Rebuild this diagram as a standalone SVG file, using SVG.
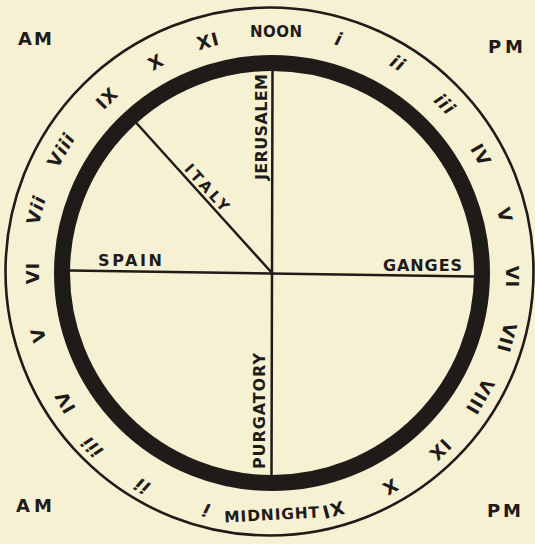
<svg xmlns="http://www.w3.org/2000/svg" width="535" height="544" viewBox="0 0 535 544">
<style>
.t{font-family:"DejaVu Sans","Liberation Sans",Arial,sans-serif;font-weight:bold;fill:#1f1b19}
.n{font-size:18px;text-anchor:middle;letter-spacing:1px}
.lc{font-style:italic}
.lb{font-size:16px}
.ln{stroke:#1f1b19;stroke-width:2.5;fill:none;stroke-linecap:round}
</style>
<rect width="535" height="544" fill="#f6f1d2"/>
<g id="outer-ring"><circle cx="269.5" cy="271.5" r="264" fill="none" stroke="#1f1b19" stroke-width="2.6"/></g>
<g id="inner-ring"><circle cx="272" cy="273" r="210" fill="none" stroke="#1f1b19" stroke-width="16"/></g>
<g id="connectors">
<line class="ln" x1="272.5" y1="70" x2="271.5" y2="476"/>
<line class="ln" x1="70" y1="270.5" x2="475" y2="276.5"/>
<line class="ln" x1="131" y1="117" x2="272" y2="273"/>
</g>
<g id="label-jerusalem"><text class="t lb" transform="translate(267,127) rotate(-90)" text-anchor="middle" textLength="106" lengthAdjust="spacing">JERUSALEM</text></g>
<g id="label-purgatory"><text class="t lb" transform="translate(265,411) rotate(-90)" text-anchor="middle" textLength="116" lengthAdjust="spacing">PURGATORY</text></g>
<g id="label-italy"><text class="t" font-size="15" transform="translate(203,191) rotate(48)" text-anchor="middle" textLength="58" lengthAdjust="spacing">ITALY</text></g>
<g id="label-spain"><text class="t lb" x="98" y="266" textLength="64" lengthAdjust="spacing">SPAIN</text></g>
<g id="label-ganges"><text class="t lb" x="383" y="271" textLength="79" lengthAdjust="spacing">GANGES</text></g>
<g id="noon"><text class="t" font-size="15" x="250" y="37" textLength="52" lengthAdjust="spacing">NOON</text></g>
<g id="midnight"><text class="t" font-size="15.5" transform="translate(272,520) rotate(-3)" text-anchor="middle" textLength="95" lengthAdjust="spacing">MIDNIGHT</text></g>
<g id="am-top"><text class="t" font-size="18" x="18" y="45" textLength="34" lengthAdjust="spacing">AM</text></g>
<g id="pm-top"><text class="t" font-size="18" x="488" y="53" textLength="35" lengthAdjust="spacing">PM</text></g>
<g id="am-bottom"><text class="t" font-size="18" x="16" y="512" textLength="36" lengthAdjust="spacing">AM</text></g>
<g id="pm-bottom"><text class="t" font-size="18" x="487" y="517" textLength="34" lengthAdjust="spacing">PM</text></g>
<g id="pm-hours">
<text class="t n lc" transform="translate(339,39) rotate(15)" y="6.5">i</text>
<text class="t n lc" transform="translate(398,63) rotate(30)" y="6.5">ii</text>
<text class="t n lc" transform="translate(445,104) rotate(45)" y="6.5">iii</text>
<text class="t n" transform="translate(481,155) rotate(60)" y="6.5">IV</text>
<text class="t n" transform="translate(505,215) rotate(75)" y="6.5">V</text>
<text class="t n" transform="translate(512,277) rotate(90)" y="6.5">VI</text>
<text class="t n" transform="translate(507,338) rotate(105)" y="6.5">VII</text>
<text class="t n" transform="translate(480,397) rotate(120)" y="6.5">VIII</text>
<text class="t n" transform="translate(440,450) rotate(135)" y="6.5">IX</text>
<text class="t n" transform="translate(390,487) rotate(150)" y="6.5">X</text>
<text class="t n" transform="translate(333,510) rotate(165)" y="6.5">XI</text>
</g>
<g id="am-hours">
<text class="t n lc" transform="translate(206,510) rotate(195)" y="6.5">i</text>
<text class="t n lc" transform="translate(142,486) rotate(210)" y="6.5">ii</text>
<text class="t n lc" transform="translate(92,447) rotate(225)" y="6.5">iii</text>
<text class="t n" transform="translate(65,402) rotate(240)" y="6.5">IV</text>
<text class="t n" transform="translate(38,335) rotate(255)" y="6.5">V</text>
<text class="t n" transform="translate(32,273) rotate(270)" y="6.5">VI</text>
<text class="t n" transform="translate(36,210) rotate(285)" y="6.5">V<tspan class="lc">ii</tspan></text>
<text class="t n" transform="translate(61,150) rotate(300)" y="6.5">V<tspan class="lc">iii</tspan></text>
<text class="t n" transform="translate(107,98) rotate(315)" y="6.5">IX</text>
<text class="t n" transform="translate(156,62) rotate(330)" y="6.5">X</text>
<text class="t n" transform="translate(208,41) rotate(345)" y="6.5">XI</text>
</g>
</svg>
